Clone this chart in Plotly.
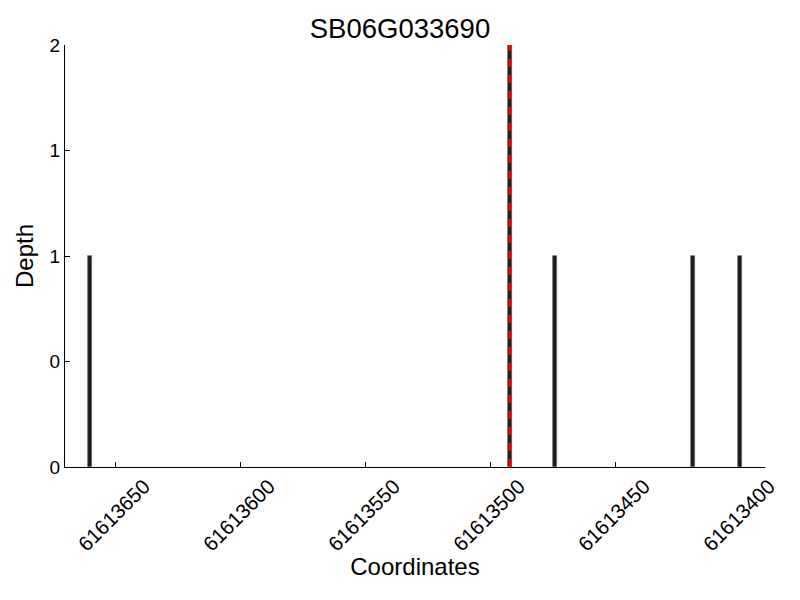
import plotly.graph_objects as go

title = "SB06G033690"
positions = [61613660, 61613492, 61613474, 61613419, 61613400]
depths = [1, 2, 1, 1, 1]
highlight_pos = 61613492
x_tickvals = [61613650, 61613600, 61613550, 61613500, 61613450, 61613400]
x_ticktext = [str(v) for v in x_tickvals]
y_tickvals = [0, 0.5, 1, 1.5, 2]
y_ticktext = ["0", "0", "1", "1", "2"]
x_range = [61613670, 61613390]
y_range = [0, 2]

fig = go.Figure()
fig.add_trace(go.Bar(
    x=positions, y=depths, width=1.6,
    marker=dict(color="#1c1c1c", line=dict(color="#666666", width=0.7)),
    showlegend=False,
))
fig.add_vline(x=highlight_pos, line=dict(color="red", width=3, dash="8px,8px"))

font_family = "Liberation Sans, Arial, sans-serif"
fig.update_layout(
    width=800, height=600,
    plot_bgcolor="white", paper_bgcolor="white",
    margin=dict(l=65, r=35, t=45, b=133, autoexpand=False),
    title=dict(text=title, x=0.5, xanchor="center", y=0.952, yanchor="middle",
               font=dict(family=font_family, size=27.5, color="black")),
    font=dict(family=font_family, color="black"),
    bargap=0,
)
fig.update_xaxes(
    range=x_range, tickvals=x_tickvals, showticklabels=False,
    ticks="inside", ticklen=5, tickcolor="black",
    showline=True, linecolor="black", linewidth=1.3, showgrid=False, zeroline=False,
    automargin=False,
    title=dict(text="Coordinates", font=dict(size=24), standoff=91),
)
for v, t in zip(x_tickvals, x_ticktext):
    fig.add_annotation(
        x=v, xref="x", y=0, yref="paper", text=t, showarrow=False,
        textangle=-45, xanchor="center", yanchor="top", yshift=-5, xshift=-2,
        font=dict(size=20.5, color="black"),
    )
fig.update_yaxes(
    range=y_range, tickvals=y_tickvals, ticktext=y_ticktext,
    ticks="inside", ticklen=5, tickcolor="black",
    showline=True, linecolor="black", linewidth=1.3, showgrid=False, zeroline=False,
    automargin=False,
    tickfont=dict(size=19), title=dict(text="Depth", font=dict(size=24), standoff=9),
)
fig.write_html("out.html", config={"displayModeBar": False},
               post_script="document.body.style.margin='0';")
